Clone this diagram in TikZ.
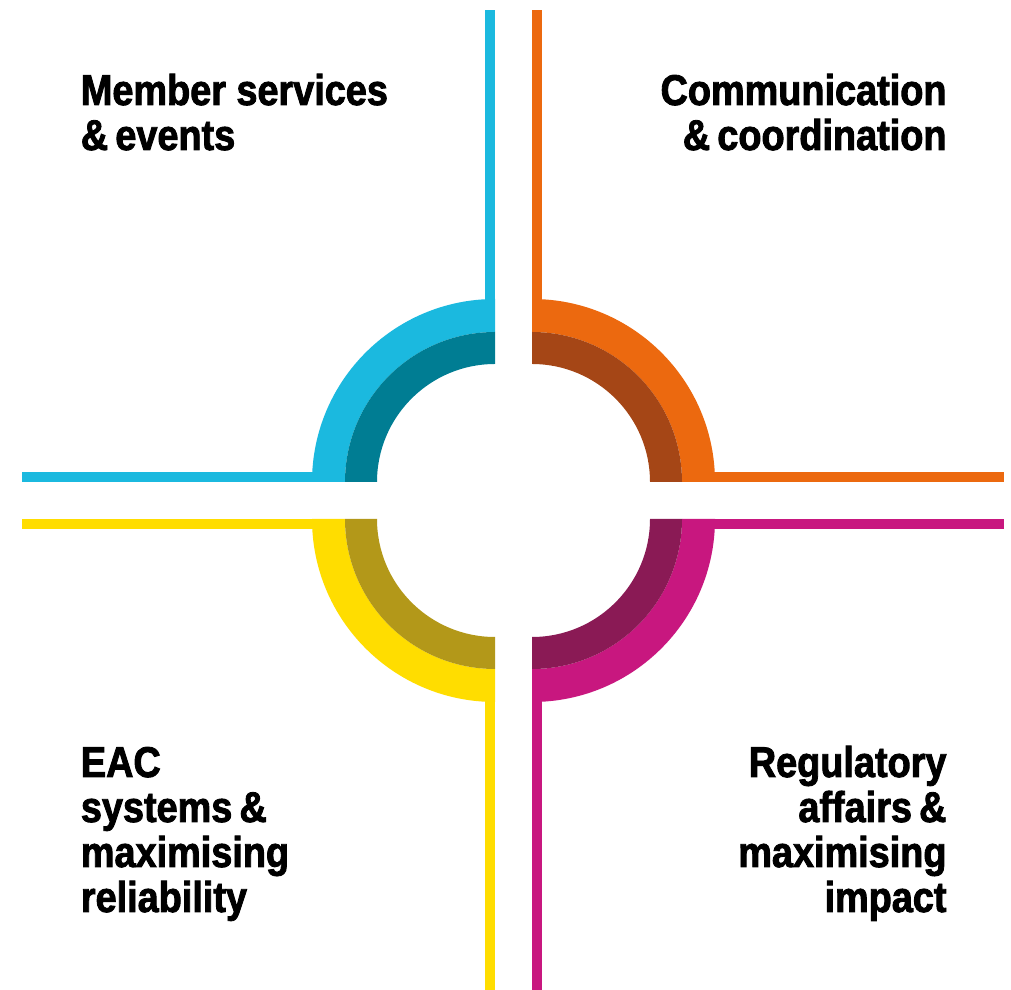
\documentclass[tikz,border=0pt]{standalone}
\usepackage{fontspec}
\newfontfamily\labfont[FakeStretch=0.88, FakeBold=2]{Liberation Sans}
\definecolor{cyanL}{HTML}{1BB9DF}
\definecolor{cyanD}{HTML}{007D93}
\definecolor{orangeL}{HTML}{EC690F}
\definecolor{orangeD}{HTML}{A54616}
\definecolor{yellowL}{HTML}{FFDD00}
\definecolor{yellowD}{HTML}{B39819}
\definecolor{magentaL}{HTML}{C8177F}
\definecolor{magentaD}{HTML}{8A1A55}
\begin{document}
\begin{tikzpicture}[x=1bp,y=1bp,
  lab/.style={font=\labfont\bfseries\fontsize{43bp}{45bp}\selectfont, inner sep=0pt},
]
\useasboundingbox (0,0) rectangle (1011,990);
% centres of the four quarter rings
\coordinate (cC) at (495,508);
\coordinate (cO) at (532,508);
\coordinate (cY) at (495,471);
\coordinate (cM) at (532,471);
% bars
\fill[cyanL] (485.4,680) rectangle (495,980);
\fill[cyanL] (22,508) rectangle (330,517.6);
\fill[orangeL] (532,680) rectangle (541.6,980);
\fill[orangeL] (700,508) rectangle (1004,517.6);
\fill[yellowL] (485.4,0) rectangle (495,300);
\fill[yellowL] (22,461.4) rectangle (330,471);
\fill[magentaL] (532,0) rectangle (541.6,300);
\fill[magentaL] (700,461.4) rectangle (1004,471);
% rings
\foreach \c/\a/\L/\D in {cC/90/cyanL/cyanD, cO/0/orangeL/orangeD, cY/180/yellowL/yellowD, cM/270/magentaL/magentaD}{
  \fill[\L, shift={(\c)}] (\a:183) arc[start angle=\a, end angle=\a+90, radius=183]
     -- (\a+90:150) arc[start angle=\a+90, end angle=\a, radius=150] -- cycle;
  \fill[\D, shift={(\c)}] (\a:150) arc[start angle=\a, end angle=\a+90, radius=150]
     -- (\a+90:118) arc[start angle=\a+90, end angle=\a, radius=118] -- cycle;
}
% labels (base anchor = baseline of the last line)
\node[lab, align=left, anchor=base west] (tl) at (80.7,840) {Member services\\\&\,events};
\node[lab, align=right, anchor=base east] (tr) at (946.7,840) {Communication\\\&\,coordination};
\node[lab, align=left, anchor=base west] (bl) at (80.7,78) {EAC\\systems\,\&\\maximising\\reliability};
\node[lab, align=right, anchor=base east] (br) at (946.7,78) {Regulatory\\affairs\,\&\\maximising\\impact};
\end{tikzpicture}
\end{document}
